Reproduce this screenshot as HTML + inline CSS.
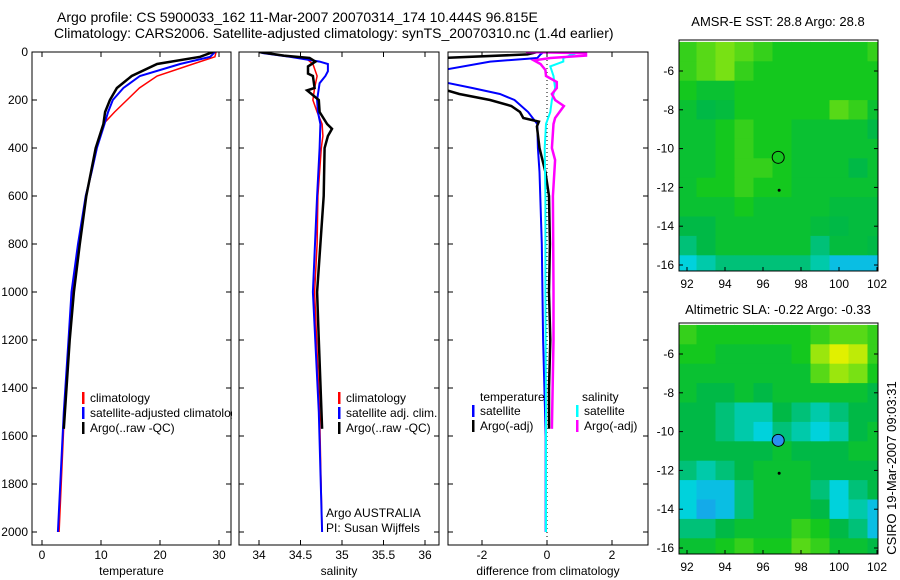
<!DOCTYPE html>
<html><head><meta charset="utf-8"><style>
body{margin:0;background:#fff}
svg{display:block;font-family:"Liberation Sans",sans-serif;font-size:12px}
.tt{font-size:14px}
.mt{font-size:13px}
</style></head><body>
<svg id="c" width="900" height="580" xmlns="http://www.w3.org/2000/svg">
<text class="tt" x="57" y="22">Argo profile: CS 5900033_162 11-Mar-2007 20070314_174 10.444S 96.815E</text>
<text class="tt" x="54" y="38">Climatology: CARS2006. Satellite-adjusted climatology: synTS_20070310.nc (1.4d earlier)</text>
<text class="mt" x="778" y="26" text-anchor="middle">AMSR-E SST: 28.8 Argo: 28.8</text>
<text class="mt" x="778" y="314" text-anchor="middle">Altimetric SLA: -0.22 Argo: -0.33</text>
<text class="mt" transform="translate(896,468) rotate(-90)" text-anchor="middle">CSIRO 19-Mar-2007 09:03:31</text>
</svg>
<script>
// ---- profile data (depth in m) ----
const tClimD=[0,20,50,100,150,200,250,300,400,500,600,800,1000,1200,1500,2000];
const tClimV=[29.5,29.3,25.6,19.5,16.5,14.4,12.3,10.4,9.3,8.4,7.5,6.3,5.2,4.6,3.8,2.9];
const tSatD=[0,20,50,100,150,200,250,300,400,500,600,800,1000,1200,1500,2000];
const tSatV=[29.3,28.5,23.4,16.6,13.8,12.0,11.2,10.6,9.3,8.4,7.4,6.1,5.0,4.5,3.7,2.7];
const tArgD=[0,20,50,100,150,200,250,300,400,500,600,800,1000,1200,1570];
const tArgV=[29.0,26.8,19.5,15.2,12.7,11.5,10.7,10.4,9.1,8.3,7.5,6.4,5.4,4.7,3.7];
const sClimD=[0,5,20,30,50,100,150,200,250,300,350,400,600,800,1000,1500,2000];
const sClimV=[34.0,34.05,34.37,34.58,34.65,34.7,34.67,34.65,34.7,34.76,34.77,34.75,34.71,34.7,34.67,34.73,34.76];
const sSatD=[0,5,20,40,50,80,100,130,200,250,300,400,600,1000,1500,2000];
const sSatV=[34.0,34.05,34.37,34.73,34.83,34.83,34.8,34.73,34.7,34.71,34.74,34.73,34.7,34.65,34.72,34.76];
const sArgD=[0,15,25,40,60,90,100,150,160,200,250,300,320,350,400,600,800,1000,1200,1570];
const sArgV=[34.0,34.3,34.61,34.68,34.59,34.59,34.65,34.67,34.58,34.72,34.73,34.82,34.88,34.83,34.79,34.78,34.74,34.7,34.72,34.76];
const dTSatD=[0,10,25,40,75,125,150,175,200,250,300,400,500,800,1200,1600,2000];
const dTSatV=[-0.1,-0.2,-0.3,-1.75,-3.2,-3.2,-2.3,-1.45,-1.0,-0.58,-0.3,-0.28,-0.23,-0.16,-0.12,-0.04,-0.04];
const dTArgD=[0,10,25,155,175,200,225,250,275,290,310,400,500,600,800,1000,1200,1400,1570];
const dTArgV=[-0.3,-0.6,-3.2,-3.2,-2.7,-1.75,-1.1,-0.83,-0.73,-0.25,-0.31,-0.23,-0.05,0.06,0.09,0.06,0.1,0.06,0.06];
const dSSatD=[0,10,25,40,60,100,150,200,250,300,400,600,1000,1500,2000];
const dSSatV=[0.5,0.8,0.5,0.5,0.1,0.2,0.25,0.15,0.1,-0.03,-0.07,-0.05,-0.05,-0.03,-0.03];
const dSArgD=[0,5,15,25,35,50,75,100,125,150,175,200,225,275,300,400,450,600,1000,1200,1570];
const dSArgV=[-0.65,1.2,1.2,0.1,-0.4,-0.2,-0.05,-0.03,0.3,0.3,0.15,0.25,0.52,0.25,0.2,0.15,0.25,0.18,0.2,0.2,0.15];
const depthTicks=[0,200,400,600,800,1000,1200,1400,1600,1800,2000];
const tempTicks=[0,10,20,30];
const salTicks=[34,34.5,35,35.5,36];
const diffTicks=[-2,0,2];
// ---- map data: rows lat -5..-16, cols lon 92..102 ----
const mapLons=[92,93,94,95,96,97,98,99,100,101,102];
const mapLats=[-5,-6,-7,-8,-9,-10,-11,-12,-13,-14,-15,-16];
const sstGrid=[
[.55,.6,.65,.6,.55,.5,.5,.5,.5,.5,.55],
[.55,.6,.65,.55,.5,.5,.5,.5,.5,.5,.5],
[.5,.45,.45,.5,.5,.5,.5,.5,.5,.5,.5],
[.45,.4,.42,.5,.5,.5,.5,.5,.6,.55,.45],
[.45,.45,.5,.55,.5,.5,.45,.45,.45,.45,.4],
[.45,.45,.5,.55,.5,.5,.45,.45,.45,.45,.45],
[.45,.45,.5,.55,.55,.5,.45,.45,.45,.4,.45],
[.45,.5,.5,.55,.5,.5,.45,.45,.45,.45,.45],
[.45,.45,.45,.5,.45,.45,.45,.45,.42,.42,.42],
[.4,.4,.45,.45,.45,.45,.45,.42,.4,.42,.42],
[.35,.4,.45,.45,.45,.45,.45,.35,.42,.42,.4],
[.25,.3,.35,.35,.35,.35,.35,.3,.2,.2,.2]];
const slaGrid=[
[.55,.5,.5,.5,.5,.5,.5,.55,.6,.6,.55],
[.5,.5,.45,.45,.45,.45,.5,.7,.8,.75,.55],
[.45,.45,.45,.45,.45,.45,.45,.6,.7,.65,.5],
[.45,.4,.4,.45,.4,.45,.45,.45,.45,.45,.4],
[.4,.4,.35,.3,.3,.4,.35,.3,.35,.4,.4],
[.4,.4,.35,.3,.25,.35,.3,.25,.3,.4,.45],
[.4,.4,.4,.4,.4,.45,.4,.4,.4,.45,.45],
[.35,.3,.35,.4,.45,.45,.45,.4,.4,.4,.4],
[.25,.2,.2,.35,.45,.45,.45,.35,.25,.35,.4],
[.25,.15,.2,.35,.45,.45,.45,.4,.25,.3,.2],
[.35,.35,.4,.45,.45,.45,.55,.5,.4,.35,.2],
[.45,.45,.5,.55,.5,.5,.6,.55,.45,.45,.4]];
const latTicks=[-6,-8,-10,-12,-14,-16];
const lonTicks=[92,94,96,98,100,102];
const floatLon=96.8, floatLat=-10.45, prevLon=96.85, prevLat=-12.15;

const svg=document.getElementById('c');
const NS='http://www.w3.org/2000/svg';
function mk(tag,attrs,parent){const e=document.createElementNS(NS,tag);for(const k in attrs)e.setAttribute(k,attrs[k]);(parent||svg).appendChild(e);return e;}
const top0=52,bot=545;
const yD=d=>top0+0.24*d;
const panels=[
 {x0:32,x1:231,f:v=>42+5.9*v,ticks:tempTicks,lab:'temperature',name:'temperature-panel'},
 {x0:239,x1:439,f:v=>259+83*(v-34),ticks:salTicks,lab:'salinity',name:'salinity-panel'},
 {x0:448,x1:648,f:v=>547+32.5*v,ticks:diffTicks,lab:'difference from climatology',name:'difference-panel'}];
function line(p,D,V,col,w,name){
 const g=mk('g',{});
 
 
 const pts=D.map((d,i)=>p.f(V[i]).toFixed(1)+','+yD(d).toFixed(1)).join(' ');
 mk('polyline',{points:pts,fill:'none',stroke:col,'stroke-width':w,'clip-path':'url(#'+p.name+'-clip)'},g);
}
panels.forEach((p,i)=>{
 const bg=mk('rect',{x:p.x0,y:top0,width:p.x1-p.x0,height:bot-top0,fill:'#fff'});
 
 
 const cp=mk('clipPath',{id:p.name+'-clip'});
 mk('rect',{x:p.x0,y:top0,width:p.x1-p.x0,height:bot-top0},cp);
 if(i==2){
  const z=mk('line',{x1:p.f(0),x2:p.f(0),y1:top0,y2:bot,stroke:'#000','stroke-dasharray':'1,3','stroke-width':1});
  
  
 }
});
line(panels[0],tClimD,tClimV,'#f00',1.5,'temp-climatology-line');
line(panels[0],tSatD,tSatV,'#00f',2,'temp-satellite-line');
line(panels[0],tArgD,tArgV,'#000',2.5,'temp-argo-line');
function leg(x,y,col,txt,name){
 const g=mk('g',{});
 
 
 mk('rect',{x:x,y:y-10,width:2.5,height:12,fill:col},g);
 const t=mk('text',{x:x+8,y:y},g);t.textContent=txt;
}
leg(82,402,'#f00','climatology','legend-climatology');
leg(82,417,'#00f','satellite-adjusted climatology','legend-satellite-adjusted');
leg(82,432,'#000','Argo(..raw -QC)','legend-argo');
const cov=mk('rect',{x:232,y:380,width:7,height:60,fill:'#fff'});


const cov2=mk('rect',{x:239,y:380,width:20,height:60,fill:'#fff'});


line(panels[1],sClimD,sClimV,'#f00',1.5,'sal-climatology-line');
line(panels[1],sSatD,sSatV,'#00f',2,'sal-satellite-line');
line(panels[1],sArgD,sArgV,'#000',2.5,'sal-argo-line');
leg(338,402,'#f00','climatology','legend2-climatology');
leg(338,417,'#00f','satellite adj. clim.','legend2-satellite');
leg(338,432,'#000','Argo(..raw -QC)','legend2-argo');
let t=mk('text',{x:326,y:517});t.textContent='Argo AUSTRALIA';

t=mk('text',{x:326,y:532});t.textContent='PI: Susan Wijffels';

line(panels[2],dTSatD,dTSatV,'#00f',2,'diff-temp-satellite-line');
line(panels[2],dTArgD,dTArgV,'#000',2.5,'diff-temp-argo-line');
line(panels[2],dSSatD,dSSatV,'#0ff',2,'diff-sal-satellite-line');
line(panels[2],dSArgD,dSArgV,'#f0f',2.5,'diff-sal-argo-line');
t=mk('text',{x:480,y:401});t.textContent='temperature';

t=mk('text',{x:582,y:401});t.textContent='salinity';

leg(472,415,'#00f','satellite','legend3-temp-satellite');
leg(472,430,'#000','Argo(-adj)','legend3-temp-argo');
leg(576,415,'#0ff','satellite','legend3-sal-satellite');
leg(576,430,'#f0f','Argo(-adj)','legend3-sal-argo');
panels.forEach((p,i)=>{
 const fr=mk('rect',{x:p.x0,y:top0,width:p.x1-p.x0,height:bot-top0,fill:'none',stroke:'#000','stroke-width':1});
 
 
 depthTicks.forEach(d=>{
  mk('line',{x1:p.x0,x2:p.x0+5,y1:yD(d),y2:yD(d),stroke:'#000'});
  mk('line',{x1:p.x1-5,x2:p.x1,y1:yD(d),y2:yD(d),stroke:'#000'});
  if(i==0){const tl=mk('text',{x:28,y:yD(d)+4,'text-anchor':'end'});tl.textContent=d;
   }
 });
 p.ticks.forEach(v=>{
  const x=p.f(v);
  mk('line',{x1:x,x2:x,y1:bot,y2:bot-5,stroke:'#000'});
  mk('line',{x1:x,x2:x,y1:top0,y2:top0+5,stroke:'#000'});
  const tl=mk('text',{x:x,y:559,'text-anchor':'middle'});tl.textContent=v;
  
 });
 const al=mk('text',{x:(p.x0+p.x1)/2,y:575,'text-anchor':'middle'});al.textContent=p.lab;
 
});
const stops=[[0.1,[30,150,240]],[0.25,[0,210,220]],[0.4,[0,185,70]],[0.5,[20,200,30]],[0.65,[120,225,20]],[0.8,[225,240,0]]];
function cmap(v){
 if(v<=stops[0][0])return 'rgb('+stops[0][1]+')';
 for(let i=1;i<stops.length;i++){if(v<=stops[i][0]){const a=stops[i-1],b=stops[i],f=(v-a[0])/(b[0]-a[0]);
  return 'rgb('+a[1].map((c,k)=>Math.round(c+(b[1][k]-c)*f)).join(',')+')';}}
 return 'rgb('+stops[stops.length-1][1]+')';
}
function drawMap(y0,grid,name,filled){
 const x0=679,x1=878,y1=y0+231;
 const fx=lon=>687+19*(lon-92), fy=lat=>y0+31+19.4*(-6-lat);
 const cp=mk('clipPath',{id:name+'-clip'});
 mk('rect',{x:x0,y:y0,width:x1-x0,height:y1-y0},cp);
 const g=mk('g',{'clip-path':'url(#'+name+'-clip)'});
 
 
 grid.forEach((row,r)=>row.forEach((v,c)=>{
  const cell=mk('rect',{x:fx(mapLons[c]-0.5),y:fy(mapLats[r]+0.5),width:19.5,height:20,fill:cmap(v)},g);
  
  
 }));
 const fr=mk('rect',{x:x0,y:y0,width:x1-x0,height:y1-y0,fill:'none',stroke:'#000'});
 
 latTicks.forEach(l=>{const y=fy(l);mk('line',{x1:x0,x2:x0+4,y1:y,y2:y,stroke:'#000'});mk('line',{x1:x1-4,x2:x1,y1:y,y2:y,stroke:'#000'});
  const tl=mk('text',{x:674,y:y+4,'text-anchor':'end'});tl.textContent=l;
  });
 lonTicks.forEach(l=>{const x=fx(l);mk('line',{x1:x,x2:x,y1:y1,y2:y1-4,stroke:'#000'});
  const tl=mk('text',{x:x,y:y1+17,'text-anchor':'middle'});tl.textContent=l;
  });
 const m=mk('circle',{cx:fx(floatLon),cy:fy(floatLat),r:6,fill:filled?'#2a90f0':'none',stroke:'#000','stroke-width':1});
 
 const d=mk('circle',{cx:fx(prevLon),cy:fy(prevLat),r:1.5,fill:'#000'});
 
}
drawMap(40,sstGrid,'sst-map',false);
drawMap(323,slaGrid,'sla-map',true);
</script>
</body></html>
